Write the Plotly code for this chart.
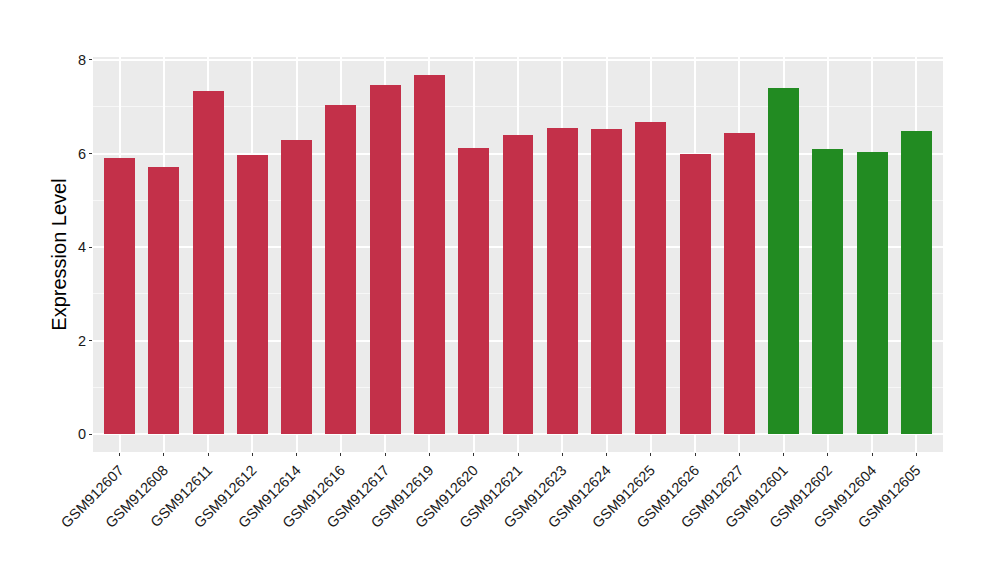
import plotly.graph_objects as go

samples = ["GSM912607", "GSM912608", "GSM912611", "GSM912612", "GSM912614", "GSM912616",
           "GSM912617", "GSM912619", "GSM912620", "GSM912621", "GSM912623", "GSM912624",
           "GSM912625", "GSM912626", "GSM912627", "GSM912601", "GSM912602", "GSM912604",
           "GSM912605"]
values = [5.90, 5.71, 7.34, 5.97, 6.29, 7.04, 7.47, 7.68, 6.12, 6.40, 6.55, 6.53,
          6.68, 5.99, 6.43, 7.41, 6.10, 6.03, 6.48]
groups = ["a"] * 15 + ["b"] * 4
group_colors = {"a": "#C33049", "b": "#228B22"}

ymax = max(values)
fig = go.Figure()
fig.add_trace(go.Bar(
    x=samples, y=values, width=0.7,
    marker=dict(color=[group_colors[g] for g in groups], line=dict(width=0)),
    showlegend=False,
))

fig.update_layout(
    width=1000, height=580,
    margin=dict(l=85, r=65, t=49, b=136),
    paper_bgcolor="white", plot_bgcolor="#EBEBEB",
    font=dict(family="Liberation Sans, Arial, sans-serif", color="#1a1a1a"),
    bargap=0,
)
fig.update_xaxes(
    type="category", range=[-0.6, len(samples) - 0.4],
    tickangle=-45, tickfont=dict(size=14.5, color="#1a1a1a"),
    showgrid=True, gridcolor="white", gridwidth=1.5,
    ticks="outside", ticklen=3, tickcolor="#333333", tickwidth=1,
    showline=False, zeroline=False,
)
fig.update_yaxes(
    range=[-0.05 * ymax, 1.05 * ymax],
    tickvals=[0, 2, 4, 6, 8], ticktext=["0", "2", "4", "6", "8"],
    tickfont=dict(size=14.5, color="#1a1a1a"),
    showgrid=True, gridcolor="white", gridwidth=1.5,
    minor=dict(tickvals=[1, 3, 5, 7], showgrid=True, gridcolor="#F7F7F7", gridwidth=0.8, ticks=""),
    ticks="outside", ticklen=3, tickcolor="#333333", tickwidth=1,
    showline=False, zeroline=False,
    title=dict(text="Expression Level", font=dict(size=20, color="black"), standoff=6),
)

fig.write_html("out.html")
